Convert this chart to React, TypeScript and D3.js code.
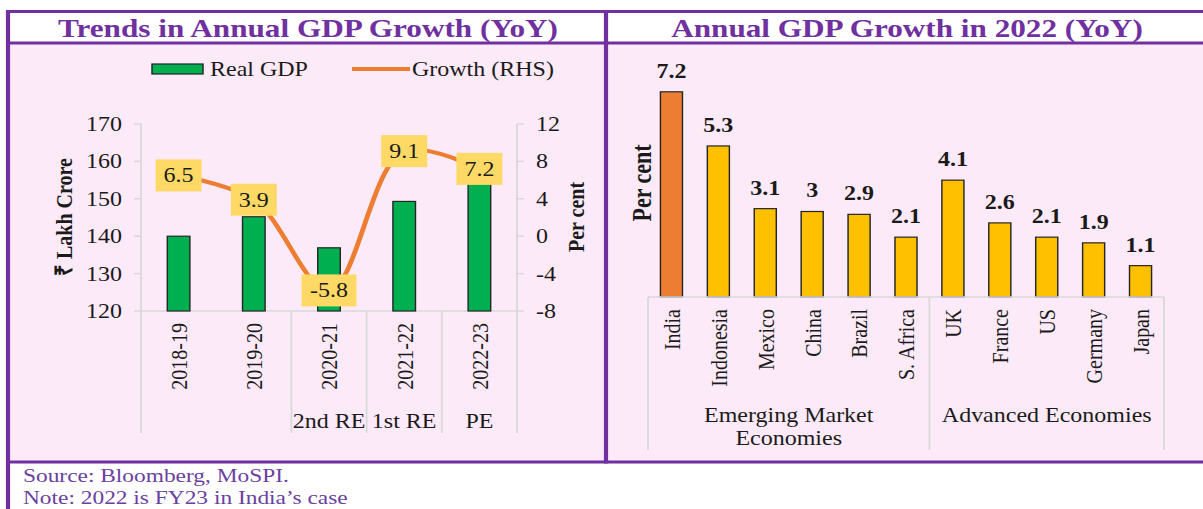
import React, { useRef, useEffect } from 'react';
import * as d3 from 'd3';

// left panel: real GDP (bars, LHS) and growth (line, RHS)
const years = ['2018-19', '2019-20', '2020-21', '2021-22', '2022-23'];
const realGdp = [140.0, 145.2, 136.9, 149.3, 160.1];
const growth = [6.5, 3.9, -5.8, 9.1, 7.2];
const lhsTicks = [120, 130, 140, 150, 160, 170];
const rhsTicks = [-8, -4, 0, 4, 8, 12];
const estimateTags = ['', '2nd RE', '1st RE', 'PE'];
const estimateSpans = [2, 1, 1, 1];

// right panel: growth in 2022 by country
const countries = ['India', 'Indonesia', 'Mexico', 'China', 'Brazil', 'S. Africa', 'UK', 'France', 'US', 'Germany', 'Japan'];
const growth2022 = [7.2, 5.3, 3.1, 3, 2.9, 2.1, 4.1, 2.6, 2.1, 1.9, 1.1];
const groupNames = [['Emerging Market', 'Economies'], ['Advanced Economies']];
const groupSizes = [6, 5];

const W = 1203;
const H = 509;
const SX = 1.2; // the original picture is stretched sideways
const px = (x: number) => x / SX;

const PURPLE = '#7030A0';
const PINK = '#FDEAF8';
const GRID = '#D9D9D9';
const INK = '#1A1A1A';
const GREEN = '#00B050';
const ORANGE = '#ED7D31';
const GOLD = '#FFC000';
const TAG = '#FFD966';
const FONT = '"Liberation Serif", "Times New Roman", serif';

const App = () => {
  const ref = useRef<SVGSVGElement>(null);

  useEffect(() => {
    const svg = d3.select(ref.current);
    svg.selectAll('*').remove();

    const root = svg.append('g')
      .attr('transform', `scale(${SX},1)`)
      .attr('font-family', FONT);

    // frame
    root.append('rect')
      .attr('x', px(8)).attr('y', 43)
      .attr('width', px(W - 8)).attr('height', 462 - 43)
      .attr('fill', PINK);

    const hLines = [[8, W, 11.5], [8, W, 43], [8, W, 462]];
    root.append('g').selectAll('line').data(hLines).join('line')
      .attr('x1', d => px(d[0])).attr('x2', d => px(d[1]))
      .attr('y1', d => d[2]).attr('y2', d => d[2])
      .attr('stroke', PURPLE).attr('stroke-width', 3);
    const vLines = [[8, 10, H], [606, 10, 463.5]];
    root.append('g').selectAll('line').data(vLines).join('line')
      .attr('x1', d => px(d[0])).attr('x2', d => px(d[0]))
      .attr('y1', d => d[1]).attr('y2', d => d[2])
      .attr('stroke', PURPLE).attr('stroke-width', 3.5);

    const titles = [['Trends in Annual GDP Growth (YoY)', 308], ['Annual GDP Growth in 2022 (YoY)', 907]];
    root.append('g').selectAll('text').data(titles).join('text')
      .attr('x', d => px(d[1] as number)).attr('y', 37)
      .attr('text-anchor', 'middle')
      .attr('font-size', 26).attr('font-weight', 'bold')
      .attr('fill', PURPLE)
      .text(d => d[0] as string);

    // ---------- left chart ----------
    const left = root.append('g').attr('font-size', 20).attr('fill', INK);
    const x = d3.scaleBand().domain(years).range([px(141), px(517)])
      .paddingInner(0.7).paddingOuter(0.35);
    const yL = d3.scaleLinear().domain([120, 170]).range([311, 124]);
    const yR = d3.scaleLinear().domain([-8, 12]).range([311, 124]);
    const cx = (d: string) => x(d)! + x.bandwidth() / 2;
    const x0 = px(141), x1 = px(517);

    // axes
    left.append('line').attr('x1', x0).attr('x2', x0).attr('y1', 124).attr('y2', 311)
      .attr('stroke', GRID).attr('stroke-width', 1.5);
    left.append('line').attr('x1', x1).attr('x2', x1).attr('y1', 124).attr('y2', 311)
      .attr('stroke', GRID).attr('stroke-width', 1.5);
    left.append('line').attr('x1', x0).attr('x2', x1).attr('y1', 311).attr('y2', 311)
      .attr('stroke', GRID).attr('stroke-width', 1.5);

    left.append('g').selectAll('line').data(lhsTicks).join('line')
      .attr('x1', px(134)).attr('x2', x0).attr('y1', d => yL(d)).attr('y2', d => yL(d))
      .attr('stroke', GRID).attr('stroke-width', 1.5);
    left.append('g').selectAll('text').data(lhsTicks).join('text')
      .attr('x', px(122)).attr('y', d => yL(d)).attr('dy', '0.35em')
      .attr('text-anchor', 'end').text(d => d);

    left.append('g').selectAll('line').data(rhsTicks).join('line')
      .attr('x1', x1).attr('x2', px(524)).attr('y1', d => yR(d)).attr('y2', d => yR(d))
      .attr('stroke', GRID).attr('stroke-width', 1.5);
    left.append('g').selectAll('text').data(rhsTicks).join('text')
      .attr('x', px(536)).attr('y', d => yR(d)).attr('dy', '0.35em')
      .attr('text-anchor', 'start').text(d => d);

    // multi-level category separators
    const cuts = [0, ...d3.cumsum(estimateSpans)];
    left.append('g').selectAll('line').data(cuts).join('line')
      .attr('x1', d => x0 + x.step() * d).attr('x2', d => x0 + x.step() * d)
      .attr('y1', 311).attr('y2', 433)
      .attr('stroke', GRID).attr('stroke-width', 1.5);

    left.append('g').selectAll('text').data(years).join('text')
      .attr('transform', d => `translate(${cx(d)},323) rotate(-90)`)
      .attr('dy', '0.35em').attr('text-anchor', 'end')
      .text(d => d);

    left.append('g').selectAll('text').data(estimateTags).join('text')
      .attr('x', (d, i) => x0 + x.step() * (cuts[i] + cuts[i + 1]) / 2)
      .attr('y', 428).attr('text-anchor', 'middle')
      .text(d => d);

    // bars
    left.append('g').selectAll('rect').data(realGdp).join('rect')
      .attr('x', (d, i) => x(years[i])!)
      .attr('y', d => yL(d))
      .attr('width', x.bandwidth())
      .attr('height', d => 311 - yL(d))
      .attr('fill', GREEN).attr('stroke', '#262626').attr('stroke-width', 1.2);

    // growth line
    const line = d3.line<number>()
      .x((d, i) => cx(years[i]))
      .y(d => yR(d))
      .curve(d3.curveCatmullRom.alpha(0.5));
    left.append('path').datum(growth)
      .attr('d', line)
      .attr('fill', 'none').attr('stroke', ORANGE).attr('stroke-width', 4);

    const tags = left.append('g').selectAll('g').data(growth).join('g')
      .attr('transform', (d, i) => `translate(${cx(years[i])},${yR(d)})`);
    tags.append('rect')
      .attr('x', d => -px(19 + 9 * String(d).length) / 2)
      .attr('y', -16)
      .attr('width', d => px(19 + 9 * String(d).length))
      .attr('height', 32)
      .attr('fill', TAG);
    tags.append('text')
      .attr('text-anchor', 'middle').attr('dy', '0.35em')
      .text(d => d);

    // axis titles
    left.append('text')
      .attr('transform', `translate(${px(64)},217) rotate(-90)`)
      .attr('dy', '0.35em').attr('text-anchor', 'middle')
      .attr('font-weight', 'bold')
      .text('₹ Lakh Crore');
    left.append('text')
      .attr('transform', `translate(${px(576)},217) rotate(-90)`)
      .attr('dy', '0.35em').attr('text-anchor', 'middle')
      .attr('font-weight', 'bold')
      .text('Per cent');

    // legend
    left.append('rect')
      .attr('x', px(152)).attr('y', 64).attr('width', px(51)).attr('height', 10)
      .attr('fill', GREEN).attr('stroke', '#222').attr('stroke-width', 1.2);
    left.append('text').attr('x', px(210)).attr('y', 76).text('Real GDP');
    left.append('line')
      .attr('x1', px(352)).attr('x2', px(410)).attr('y1', 69).attr('y2', 69)
      .attr('stroke', ORANGE).attr('stroke-width', 4);
    left.append('text').attr('x', px(412)).attr('y', 76).text('Growth (RHS)');

    // ---------- right chart ----------
    const right = root.append('g').attr('font-size', 20).attr('fill', INK);
    const xc = d3.scaleBand().domain(countries).range([px(648), px(1164)])
      .paddingInner(0.53).paddingOuter(0.265);
    const yc = d3.scaleLinear().domain([0, 8]).range([297, 69]);
    const rx0 = px(648);

    right.append('g').selectAll('rect').data(growth2022).join('rect')
      .attr('x', (d, i) => xc(countries[i])!)
      .attr('y', d => yc(d))
      .attr('width', xc.bandwidth())
      .attr('height', d => yc(0) - yc(d))
      .attr('fill', (d, i) => (i === 0 ? ORANGE : GOLD))
      .attr('stroke', '#262626').attr('stroke-width', 1.2);

    right.append('g').selectAll('text').data(growth2022).join('text')
      .attr('x', (d, i) => xc(countries[i])! + xc.bandwidth() / 2)
      .attr('y', d => yc(d) - 14)
      .attr('text-anchor', 'middle').attr('font-weight', 'bold')
      .text(d => d);

    right.append('line')
      .attr('x1', rx0).attr('x2', px(1164)).attr('y1', 297).attr('y2', 297)
      .attr('stroke', GRID).attr('stroke-width', 1.5);

    const gcuts = [0, ...d3.cumsum(groupSizes)];
    right.append('g').selectAll('line').data(gcuts).join('line')
      .attr('x1', d => rx0 + xc.step() * d).attr('x2', d => rx0 + xc.step() * d)
      .attr('y1', 297).attr('y2', 450)
      .attr('stroke', GRID).attr('stroke-width', 1.5);

    right.append('g').selectAll('text').data(countries).join('text')
      .attr('transform', d => `translate(${xc(d)! + xc.bandwidth() / 2},309) rotate(-90)`)
      .attr('dy', '0.35em').attr('text-anchor', 'end')
      .text(d => d);

    const grp = right.append('g').selectAll('text').data(groupNames).join('text')
      .attr('text-anchor', 'middle')
      .attr('x', (d, i) => rx0 + xc.step() * (gcuts[i] + gcuts[i + 1]) / 2)
      .attr('y', 422);
    grp.selectAll('tspan').data(d => d).join('tspan')
      .attr('x', function () { return (this.parentNode as SVGTextElement).getAttribute('x'); })
      .attr('dy', (d, i) => (i === 0 ? 0 : 23))
      .text(d => d);

    right.append('text')
      .attr('transform', `translate(${px(642)},183) rotate(-90)`)
      .attr('dy', '0.35em').attr('text-anchor', 'middle')
      .attr('font-weight', 'bold').attr('font-size', 22)
      .text('Per cent');

    // footer
    const foot = root.append('g').attr('font-size', 19.5).attr('fill', '#6B3FA0');
    foot.append('text').attr('x', px(23)).attr('y', 482).text('Source: Bloomberg, MoSPI.');
    foot.append('text').attr('x', px(23)).attr('y', 504).text('Note: 2022 is FY23 in India\u2019s case');
  }, []);

  return (
    <svg
      ref={ref}
      width={W}
      height={H}
      style={{ position: 'absolute', left: 0, top: 0, display: 'block', background: '#fff' }}
    />
  );
};

export default App;
